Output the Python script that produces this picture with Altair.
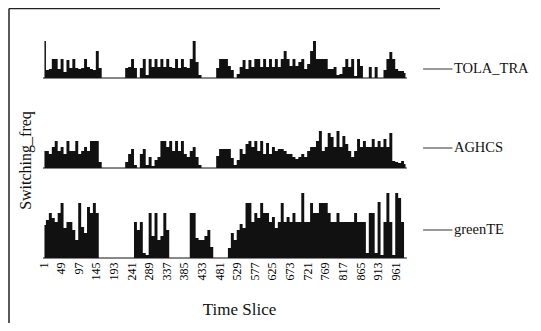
import altair as alt
import pandas as pd

# ---------------- data (one value per 8 time slices) ----------------
BIN = 8
names = ["TOLA_TRA", "AGHCS", "greenTE"]
offsets = [180, 90, 0]          # vertical offset of each trace
label_levels = [9, 20, 28]      # height of the legend leader line above each trace's baseline
tick_values = list(range(1, 962, 48))

tola = [37, 8, 9, 19, 19, 9, 19, 6, 18, 10,
        19, 10, 9, 10, 19, 11, 9, 8, 27, 10,
        0, 0, 0, 0, 0, 0, 0, 0, 10, 11,
        19, 10, 0, 10, 19, 3, 19, 11, 19, 11,
        19, 11, 19, 11, 10, 19, 10, 19, 11, 10,
        19, 37, 16, 3, 0, 0, 0, 0, 0, 10,
        19, 19, 19, 12, 8, 0, 4, 11, 18, 9,
        18, 11, 19, 19, 11, 19, 11, 19, 11, 19,
        11, 19, 27, 19, 12, 19, 12, 16, 19, 9,
        14, 27, 37, 19, 19, 19, 19, 9, 9, 11,
        3, 4, 11, 19, 11, 19, 2, 19, 12, 0,
        0, 11, 0, 11, 0, 0, 8, 19, 26, 19,
        9, 7, 7, 5]

aghcs = [17, 17, 14, 21, 27, 17, 21, 14, 27, 17,
         17, 27, 14, 17, 21, 17, 27, 27, 27, 6,
         0, 0, 0, 0, 0, 0, 0, 0, 6, 14,
         19, 3, 0, 14, 19, 3, 11, 2, 8, 11,
         27, 27, 21, 27, 17, 27, 17, 27, 14, 11,
         17, 21, 11, 3, 0, 0, 0, 0, 0, 12,
         19, 19, 19, 19, 10, 3, 8, 19, 14, 24,
         27, 21, 27, 17, 27, 14, 25, 14, 21, 17,
         19, 19, 17, 14, 14, 11, 9, 11, 14, 11,
         17, 21, 21, 27, 37, 17, 21, 35, 31, 21,
         37, 21, 32, 24, 17, 11, 17, 29, 21, 27,
         21, 21, 29, 21, 27, 21, 29, 21, 35, 7,
         6, 5, 7, 4]

greente = [33, 38, 45, 40, 36, 45, 55, 30, 36, 36,
           28, 18, 55, 31, 25, 51, 45, 55, 45, 0,
           0, 0, 0, 0, 0, 0, 0, 0, 0, 0,
           0, 36, 28, 36, 5, 3, 45, 22, 45, 18,
           22, 45, 28, 0, 0, 0, 0, 0, 0, 0,
           45, 45, 20, 18, 18, 22, 28, 11, 0, 0,
           0, 0, 0, 10, 25, 18, 28, 34, 30, 55,
           55, 36, 45, 40, 55, 45, 45, 36, 41, 30,
           36, 55, 36, 41, 36, 45, 36, 36, 65, 36,
           36, 55, 45, 45, 55, 55, 55, 45, 36, 36,
           45, 36, 36, 36, 36, 36, 45, 36, 36, 36,
           5, 45, 45, 5, 56, 3, 36, 65, 36, 3,
           65, 60, 36, 0]

# ---------------- tables ----------------
rows = []
for name, off, vals in zip(names, offsets, [tola, aghcs, greente]):
    for k, v in enumerate(vals):
        rows.append({"series": name, "x": 1 + BIN * k + BIN / 2, "y": off + v, "y2": off})
trace_df = pd.DataFrame(rows)

end_slice = 1 + BIN * len(tola)
base_df = pd.DataFrame({"series": names, "x": [1] * 3, "x2": [end_slice] * 3, "y": offsets})
lead_df = pd.DataFrame({"series": names, "x": [1037] * 3, "x2": [1117] * 3,
                        "y": [o + l for o, l in zip(offsets, label_levels)]})
text_df = pd.DataFrame({"series": names, "x": [1121] * 3,
                        "y": [o + l for o, l in zip(offsets, label_levels)]})

FONT = "Liberation Serif"
INK = "#111111"

xscale = alt.Scale(domain=[1, 1282], nice=False, zero=False)
yscale = alt.Scale(domain=[0, 228], nice=False, zero=False)

xaxis = alt.Axis(values=tick_values, title="Time Slice", grid=False, ticks=False, domain=False,
                 labelAngle=-90, labelAlign="right", labelBaseline="middle", labelPadding=4,
                 labelFont=FONT, labelFontSize=12, labelColor="#000000", labelFlush=False,
                 labelOverlap=False, titleFont=FONT, titleFontSize=17, titleFontWeight="normal",
                 titleColor=INK, titleX=196, titleY=51, titleBaseline="middle", titleAlign="center")
yaxis = alt.Axis(title="Switching_freq", labels=False, ticks=False, domain=False, grid=False,
                 titleFont=FONT, titleFontSize=16, titleFontWeight="normal", titleColor=INK,
                 titleX=-18, titleY=130, titleAngle=-90, titleBaseline="middle", titleAlign="center")

X = alt.X("x:Q", scale=xscale, axis=xaxis)
Y = alt.Y("y:Q", scale=yscale, axis=yaxis)

traces = alt.Chart(trace_df).mark_area(color=INK, interpolate="step", opacity=1).encode(
    x=X, y=Y, y2="y2:Q", detail="series:N")
baselines = alt.Chart(base_df).mark_rule(color=INK, strokeWidth=1).encode(x=X, x2="x2:Q", y=Y)
leaders = alt.Chart(lead_df).mark_rule(color="#333333", strokeWidth=1).encode(x=X, x2="x2:Q", y=Y)
labels = alt.Chart(text_df).mark_text(align="left", baseline="middle", font=FONT, fontSize=14.5,
                                      color=INK).encode(x=X, y=Y, text="series:N")

frame_df = pd.DataFrame({"k": [0]})
frame_left = alt.Chart(frame_df).mark_rule(color="#222222", strokeWidth=1.5).encode(
    x=alt.value(-34), x2=alt.value(-34), y=alt.value(-21.5), y2=alt.value(293))
frame_top = alt.Chart(frame_df).mark_rule(color="#222222", strokeWidth=1.5).encode(
    x=alt.value(-34), x2=alt.value(397), y=alt.value(-21.5), y2=alt.value(-21.5))

chart = alt.layer(frame_left, frame_top, baselines, traces, leaders, labels).properties(
    width=470, height=228,
    background="white",
    autosize=alt.AutoSizeParams(type="none"),
    padding={"left": 35, "top": 22, "right": 20, "bottom": 65},
).configure_view(stroke=None)

chart.save("out.html", embed_options={"renderer": "svg", "actions": False})
